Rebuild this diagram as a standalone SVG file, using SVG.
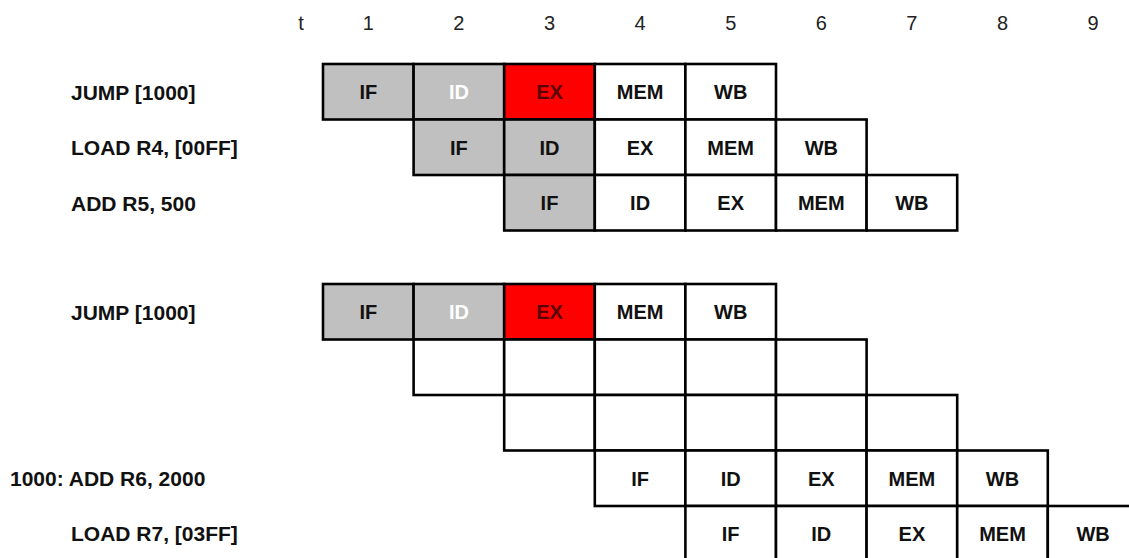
<svg xmlns="http://www.w3.org/2000/svg" width="1129" height="558" viewBox="0 0 1129 558">
<style>
.hd{font-family:"Liberation Sans",Arial,sans-serif;font-size:20px;fill:#222;text-anchor:middle}
.lb{font-family:"Liberation Sans",Arial,sans-serif;font-size:21px;font-weight:bold;fill:#111}
.c{stroke:#000;stroke-width:2.6;fill:#fff}
.g{fill:#c0c0c0}
.r{fill:#ff0000}
.t{font-family:"Liberation Sans",Arial,sans-serif;font-size:20px;font-weight:bold;fill:#111;text-anchor:middle}
.tw{fill:#fff}
.tr{fill:#5a0000}
</style>
<rect width="1129" height="558" fill="#fff"/>
<g id="header">
<text class="hd" x="301" y="30">t</text>
<text class="hd" x="368.3" y="30">1</text>
<text class="hd" x="458.9" y="30">2</text>
<text class="hd" x="549.5" y="30">3</text>
<text class="hd" x="640.1" y="30">4</text>
<text class="hd" x="730.7" y="30">5</text>
<text class="hd" x="821.3" y="30">6</text>
<text class="hd" x="911.9" y="30">7</text>
<text class="hd" x="1002.5" y="30">8</text>
<text class="hd" x="1093.1" y="30">9</text>
</g>
<g id="connectors"></g>
<g id="a-jump">
<text class="lb" x="71" y="99.5">JUMP [1000]</text>
<rect class="c g" x="323" y="64" width="90.6" height="55.5"/>
<rect class="c g" x="413.6" y="64" width="90.6" height="55.5"/>
<rect class="c r" x="504.2" y="64" width="90.6" height="55.5"/>
<rect class="c" x="594.8" y="64" width="90.6" height="55.5"/>
<rect class="c" x="685.4" y="64" width="90.6" height="55.5"/>
<text class="t" x="368.3" y="99">IF</text>
<text class="t tw" x="458.9" y="99">ID</text>
<text class="t tr" x="549.5" y="99">EX</text>
<text class="t" x="640.1" y="99">MEM</text>
<text class="t" x="730.7" y="99">WB</text>
</g>
<g id="a-load">
<text class="lb" x="71" y="155">LOAD R4, [00FF]</text>
<rect class="c g" x="413.6" y="119.5" width="90.6" height="55.5"/>
<rect class="c g" x="504.2" y="119.5" width="90.6" height="55.5"/>
<rect class="c" x="594.8" y="119.5" width="90.6" height="55.5"/>
<rect class="c" x="685.4" y="119.5" width="90.6" height="55.5"/>
<rect class="c" x="776" y="119.5" width="90.6" height="55.5"/>
<text class="t" x="458.9" y="154.5">IF</text>
<text class="t" x="549.5" y="154.5">ID</text>
<text class="t" x="640.1" y="154.5">EX</text>
<text class="t" x="730.7" y="154.5">MEM</text>
<text class="t" x="821.3" y="154.5">WB</text>
</g>
<g id="a-add">
<text class="lb" x="71" y="210.5">ADD R5, 500</text>
<rect class="c g" x="504.2" y="175" width="90.6" height="55.5"/>
<rect class="c" x="594.8" y="175" width="90.6" height="55.5"/>
<rect class="c" x="685.4" y="175" width="90.6" height="55.5"/>
<rect class="c" x="776" y="175" width="90.6" height="55.5"/>
<rect class="c" x="866.6" y="175" width="90.6" height="55.5"/>
<text class="t" x="549.5" y="210">IF</text>
<text class="t" x="640.1" y="210">ID</text>
<text class="t" x="730.7" y="210">EX</text>
<text class="t" x="821.3" y="210">MEM</text>
<text class="t" x="911.9" y="210">WB</text>
</g>
<g id="b-jump">
<text class="lb" x="71" y="319.5">JUMP [1000]</text>
<rect class="c g" x="323" y="284" width="90.6" height="55.5"/>
<rect class="c g" x="413.6" y="284" width="90.6" height="55.5"/>
<rect class="c r" x="504.2" y="284" width="90.6" height="55.5"/>
<rect class="c" x="594.8" y="284" width="90.6" height="55.5"/>
<rect class="c" x="685.4" y="284" width="90.6" height="55.5"/>
<text class="t" x="368.3" y="319">IF</text>
<text class="t tw" x="458.9" y="319">ID</text>
<text class="t tr" x="549.5" y="319">EX</text>
<text class="t" x="640.1" y="319">MEM</text>
<text class="t" x="730.7" y="319">WB</text>
</g>
<g id="b-empty1">
<rect class="c" x="413.6" y="339.5" width="90.6" height="55.5"/>
<rect class="c" x="504.2" y="339.5" width="90.6" height="55.5"/>
<rect class="c" x="594.8" y="339.5" width="90.6" height="55.5"/>
<rect class="c" x="685.4" y="339.5" width="90.6" height="55.5"/>
<rect class="c" x="776" y="339.5" width="90.6" height="55.5"/>
</g>
<g id="b-empty2">
<rect class="c" x="504.2" y="395" width="90.6" height="55.5"/>
<rect class="c" x="594.8" y="395" width="90.6" height="55.5"/>
<rect class="c" x="685.4" y="395" width="90.6" height="55.5"/>
<rect class="c" x="776" y="395" width="90.6" height="55.5"/>
<rect class="c" x="866.6" y="395" width="90.6" height="55.5"/>
</g>
<g id="b-add">
<text class="lb" x="10" y="486">1000: ADD R6, 2000</text>
<rect class="c" x="594.8" y="450.5" width="90.6" height="55.5"/>
<rect class="c" x="685.4" y="450.5" width="90.6" height="55.5"/>
<rect class="c" x="776" y="450.5" width="90.6" height="55.5"/>
<rect class="c" x="866.6" y="450.5" width="90.6" height="55.5"/>
<rect class="c" x="957.2" y="450.5" width="90.6" height="55.5"/>
<text class="t" x="640.1" y="485.5">IF</text>
<text class="t" x="730.7" y="485.5">ID</text>
<text class="t" x="821.3" y="485.5">EX</text>
<text class="t" x="911.9" y="485.5">MEM</text>
<text class="t" x="1002.5" y="485.5">WB</text>
</g>
<g id="b-load">
<text class="lb" x="71" y="541">LOAD R7, [03FF]</text>
<rect class="c" x="685.4" y="506" width="90.6" height="55.5"/>
<rect class="c" x="776" y="506" width="90.6" height="55.5"/>
<rect class="c" x="866.6" y="506" width="90.6" height="55.5"/>
<rect class="c" x="957.2" y="506" width="90.6" height="55.5"/>
<rect class="c" x="1047.8" y="506" width="90.6" height="55.5"/>
<text class="t" x="730.7" y="541">IF</text>
<text class="t" x="821.3" y="541">ID</text>
<text class="t" x="911.9" y="541">EX</text>
<text class="t" x="1002.5" y="541">MEM</text>
<text class="t" x="1093.1" y="541">WB</text>
</g>
</svg>
